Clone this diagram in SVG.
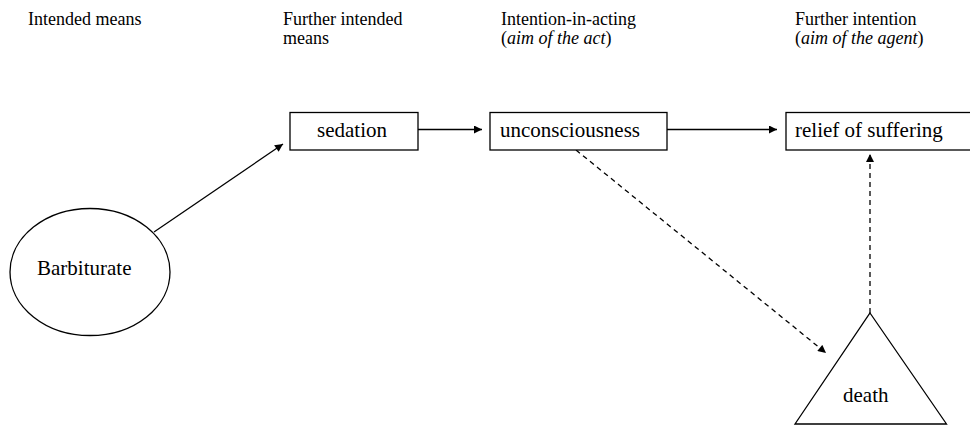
<svg xmlns="http://www.w3.org/2000/svg" width="970" height="425" viewBox="0 0 970 425">
  <style>
    .hdr { font-family: "Liberation Serif", "Times New Roman", serif; font-size: 18px; fill: #000; }
    .lbl { font-family: "Liberation Serif", "Times New Roman", serif; font-size: 21px; fill: #000; }
    .it { font-style: italic; }
    .shape { fill: #fff; stroke: #000; stroke-width: 1.3; }
    .edge { fill: none; stroke: #000; stroke-width: 1.3; }
    .dash { stroke-dasharray: 5 4; }
  </style>
  <defs>
    <marker id="arrow" viewBox="0 0 10 10" refX="10" refY="5" markerWidth="9" markerHeight="8" markerUnits="userSpaceOnUse" orient="auto">
      <path d="M0,0 L10,5 L0,10 Z" fill="#000"/>
    </marker>
  </defs>
  <rect width="970" height="425" fill="#fff"/>

  <!-- column headings -->
  <g id="headings">
    <text class="hdr" x="28" y="25">Intended means</text>
    <text class="hdr" x="283" y="25">Further intended</text>
    <text class="hdr" x="283" y="44">means</text>
    <text class="hdr" x="501" y="25">Intention-in-acting</text>
    <text class="hdr" x="501" y="44">(<tspan class="it">aim of the act</tspan>)</text>
    <text class="hdr" x="795" y="25">Further intention</text>
    <text class="hdr" x="795" y="44">(<tspan class="it">aim of the agent</tspan>)</text>
  </g>

  <!-- connectors -->
  <g id="connectors">
    <line class="edge" x1="154" y1="232" x2="283" y2="144" marker-end="url(#arrow)"/>
    <line class="edge" x1="418" y1="129.5" x2="482" y2="129.5" marker-end="url(#arrow)"/>
    <line class="edge" x1="667" y1="129.5" x2="777" y2="129.5" marker-end="url(#arrow)"/>
    <line class="edge dash" x1="576" y1="150" x2="826" y2="353" marker-end="url(#arrow)"/>
    <line class="edge dash" x1="870" y1="313" x2="870" y2="154" marker-end="url(#arrow)"/>
  </g>

  <g id="barbiturate">
    <ellipse class="shape" cx="90" cy="272" rx="80" ry="63.5"/>
    <text class="lbl" x="37" y="275">Barbiturate</text>
  </g>

  <g id="sedation">
    <rect class="shape" x="290" y="112.5" width="128" height="37.5"/>
    <text class="lbl" x="317" y="137">sedation</text>
  </g>

  <g id="unconsciousness">
    <rect class="shape" x="490" y="112.5" width="177" height="37.5"/>
    <text class="lbl" x="500" y="137">unconsciousness</text>
  </g>

  <g id="relief">
    <rect class="shape" x="786" y="112.5" width="190" height="37.5"/>
    <text class="lbl" x="795" y="137">relief of suffering</text>
  </g>

  <g id="death">
    <polygon class="shape" points="870,313 946.5,424 795,424"/>
    <text class="lbl" x="843" y="402">death</text>
  </g>
</svg>
